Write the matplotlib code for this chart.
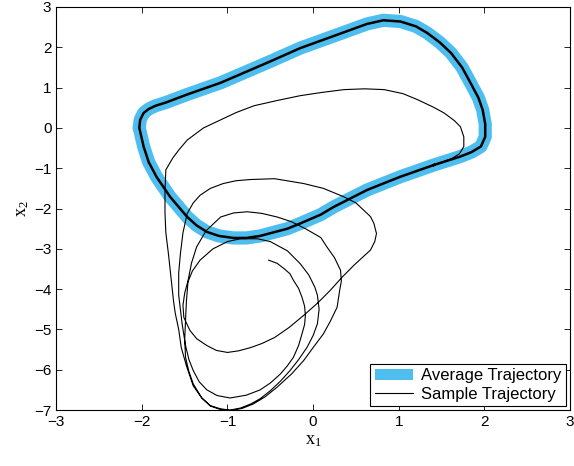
import numpy as np
import matplotlib
matplotlib.use('Agg')
import matplotlib.pyplot as plt
from matplotlib.patches import Patch
from matplotlib.lines import Line2D

plt.rcParams['font.family'] = ['Liberation Sans', 'DejaVu Sans']
plt.rcParams['font.size'] = 11

# --- Average trajectory (limit cycle) ---
avg_x = [-2.03, -2.02, -1.98, -1.92, -1.84, -1.72, -1.47, -1.08, -0.50, -0.15, 0.24, 0.63,
         0.82, 1.02, 1.20, 1.33, 1.48, 1.61, 1.74, 1.84, 1.93, 1.98, 2.01, 2.01, 1.96, 1.85,
         1.72, 1.41, 1.02, 0.63, 0.24, 0.09, -0.15, -0.30, -0.62, -0.78, -0.93, -1.10, -1.24,
         -1.36, -1.47, -1.67, -1.83, -1.92, -1.98, -2.03]
avg_y = [0.00, 0.20, 0.37, 0.47, 0.55, 0.63, 0.83, 1.12, 1.65, 1.98, 2.28, 2.58,
         2.67, 2.64, 2.52, 2.36, 2.12, 1.86, 1.50, 1.11, 0.75, 0.45, 0.10, -0.22, -0.46, -0.60,
         -0.71, -0.92, -1.21, -1.54, -1.96, -2.15, -2.37, -2.50, -2.68, -2.73, -2.73, -2.68, -2.58,
         -2.42, -2.21, -1.71, -1.21, -0.85, -0.46, 0.00]

# --- Sample trajectory (transient part, before it settles on the cycle) ---
smp_x = [-0.52, -0.42, -0.34, -0.27, -0.23, -0.17, -0.13, -0.10, -0.09, -0.10, -0.13, -0.17,
         -0.23, -0.30, -0.38, -0.50, -0.62, -0.78, -0.97, -1.12, -1.24, -1.33, -1.40, -1.45,
         -1.49, -1.53, -1.57, -1.57, -1.55, -1.52, -1.47, -1.40, -1.32, -1.20, -1.05, -0.90,
         -0.73, -0.45, -0.11, 0.12, 0.36, 0.50, 0.59, 0.67, 0.71, 0.74, 0.72, 0.67,
         0.48, 0.34, 0.20, 0.05, -0.11, -0.28, -0.45, -0.60, -0.73, -0.87, -1.00, -1.13,
         -1.24, -1.36, -1.44, -1.51, -1.52, -1.50, -1.47, -1.41, -1.32, -1.17, -1.00, -0.85,
         -0.65, -0.50, -0.30, -0.15, -0.05, 0.02, 0.05, 0.07, 0.05, 0.00, -0.07, -0.17,
         -0.27, -0.38, -0.50, -0.62, -0.73, -0.85, -0.97, -1.08, -1.20, -1.30, -1.40, -1.45,
         -1.49, -1.50, -1.49, -1.48, -1.46, -1.42, -1.36, -1.25, -1.08, -0.93, -0.77, -0.60,
         -0.42, -0.25, -0.09, 0.09, 0.16, 0.25, 0.32, 0.33, 0.31, 0.28, 0.20, 0.12,
         0.00, -0.11, -0.25, -0.42, -0.56, -0.70, -0.83, -0.97, -1.09, -1.20, -1.30, -1.40,
         -1.48, -1.54, -1.57, -1.61, -1.63, -1.66, -1.69, -1.72, -1.73, -1.73, -1.72, -1.64,
         -1.57, -1.47, -1.28, -1.08, -0.90, -0.69, -0.42, -0.15, 0.10, 0.36, 0.60, 0.83,
         1.05, 1.22, 1.40, 1.53, 1.65, 1.72, 1.76, 1.76, 1.71, 1.62, 1.41]
smp_y = [-3.28, -3.36, -3.49, -3.62, -3.78, -3.98, -4.20, -4.42, -4.65, -4.88, -5.11, -5.40,
         -5.69, -5.90, -6.10, -6.33, -6.50, -6.63, -6.70, -6.64, -6.50, -6.30, -6.02, -5.75,
         -5.40, -4.86, -4.15, -3.60, -3.12, -2.60, -2.12, -1.86, -1.67, -1.50, -1.38, -1.31,
         -1.28, -1.26, -1.38, -1.50, -1.71, -1.86, -2.04, -2.20, -2.37, -2.62, -2.82, -3.03,
         -3.40, -3.70, -4.03, -4.35, -4.65, -4.95, -5.20, -5.35, -5.45, -5.53, -5.57, -5.52,
         -5.40, -5.23, -5.02, -4.70, -4.40, -4.10, -3.86, -3.55, -3.28, -3.00, -2.82, -2.75,
         -2.75, -2.82, -3.05, -3.37, -3.65, -3.95, -4.15, -4.50, -4.86, -5.15, -5.44, -5.75,
         -6.02, -6.28, -6.52, -6.72, -6.85, -6.95, -7.00, -6.97, -6.89, -6.70, -6.35, -6.05,
         -5.69, -5.25, -4.80, -4.30, -3.78, -3.35, -2.95, -2.55, -2.21, -2.11, -2.08, -2.12,
         -2.21, -2.33, -2.50, -2.72, -2.95, -3.22, -3.53, -3.80, -4.03, -4.45, -4.80, -5.11,
         -5.45, -5.77, -6.10, -6.43, -6.67, -6.85, -6.96, -7.01, -6.98, -6.90, -6.70, -6.40,
         -5.90, -5.45, -5.00, -4.60, -4.30, -3.70, -3.12, -2.60, -2.12, -1.55, -1.04, -0.75,
         -0.55, -0.30, 0.00, 0.20, 0.38, 0.55, 0.68, 0.80, 0.88, 0.95, 0.97, 0.95,
         0.85, 0.70, 0.52, 0.37, 0.18, 0.03, -0.22, -0.46, -0.64, -0.76, -0.92]

avg_col = '#4DBEEE'

fig, ax = plt.subplots(figsize=(5.74, 4.66), dpi=100)
fig.subplots_adjust(left=0.098, right=0.993, bottom=0.12, top=0.985)

ax.plot(avg_x, avg_y, color=avg_col, lw=9.5, solid_joinstyle='round', solid_capstyle='round', zorder=1)
ax.plot(smp_x, smp_y, color='k', lw=0.8, zorder=2)
# settled laps of the sample trajectory lie on the average cycle
k = avg_x.index(1.41)
lap_x = avg_x[k:] + avg_x[1:k + 1]
lap_y = avg_y[k:] + avg_y[1:k + 1]
ax.plot(lap_x, lap_y, color='k', lw=1.8, zorder=3)

ax.set_xlim(-3, 3)
ax.set_ylim(-7, 3)
ax.set_xticks(np.arange(-3, 4, 1))
ax.set_yticks(np.arange(-7, 4, 1))
ax.tick_params(direction='in', top=True, right=True, length=4.5, width=0.6, labelsize=11)
for s in ax.spines.values():
    s.set_linewidth(0.8)

ax.set_xlabel(r'$\mathregular{x_1}$', fontsize=13, family='Liberation Serif', labelpad=2)
ax.set_ylabel(r'$\mathregular{x_2}$', fontsize=13, family='Liberation Serif', labelpad=2)

handles = [Patch(facecolor=avg_col, edgecolor='none'), Line2D([], [], color='k', lw=0.8)]
leg = ax.legend(handles, ['Average Trajectory', 'Sample Trajectory'], loc='lower right',
                fontsize=12, fancybox=False, framealpha=1, edgecolor='k', handlelength=2.3,
                borderaxespad=0.25, borderpad=0.25, labelspacing=0.2, handletextpad=0.5)
leg.get_frame().set_linewidth(0.8)

plt.savefig('out.png', dpi=100)
